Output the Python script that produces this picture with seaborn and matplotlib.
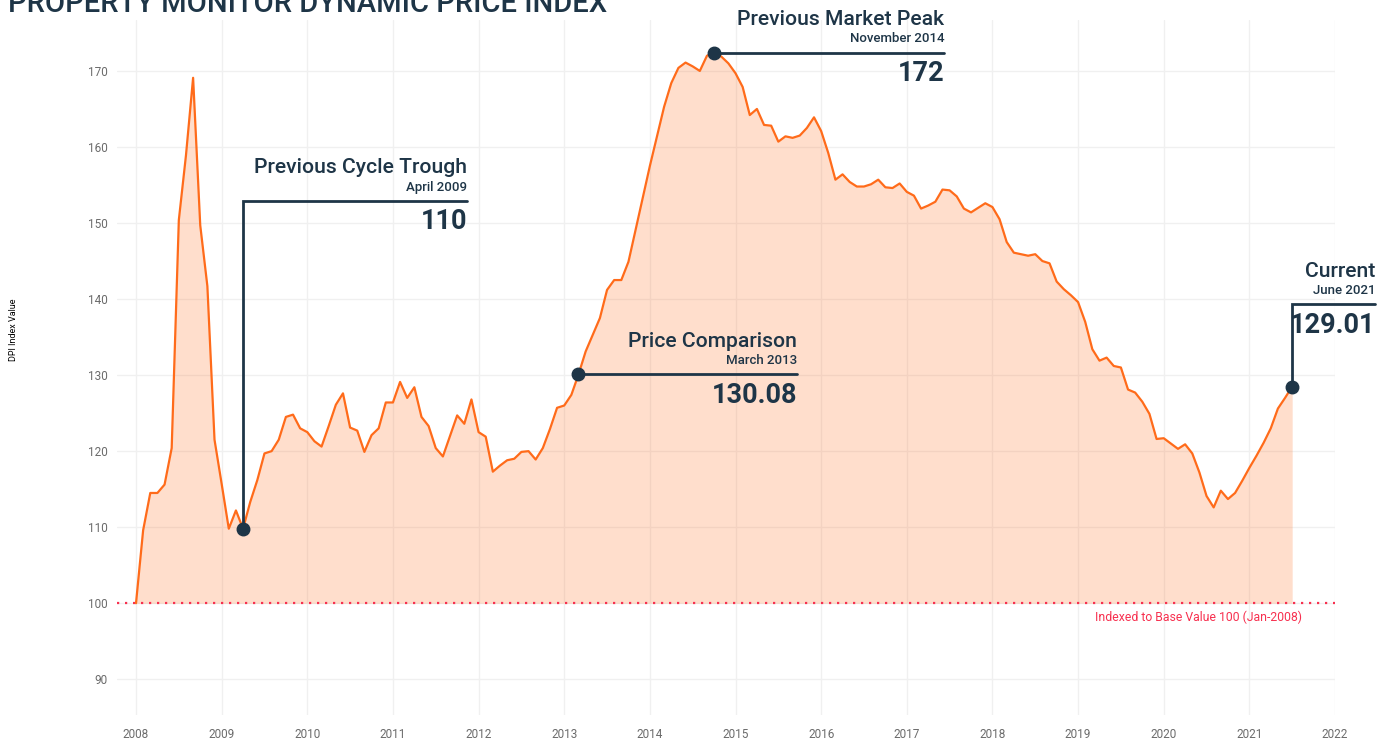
# Property Monitor DPI chart - monthly index values, Jan-2008 = 100

# --- imports --- #
import numpy as np
import pandas as pd
import matplotlib.pyplot as plt
import seaborn as sns


# --- data (monthly index values) --- #
dpi_2008 = [100.0, 109.6, 114.5, 114.5, 115.6, 120.4, 150.4, 158.9, 169.1, 149.7, 141.7, 121.5]
dpi_2009 = [115.7, 109.8, 112.2, 109.8, 113.3, 116.2, 119.7, 120.0, 121.5, 124.5, 124.8, 123.0]
dpi_2010 = [122.5, 121.3, 120.6, 123.3, 126.1, 127.6, 123.1, 122.7, 119.9, 122.1, 123.0, 126.4]
dpi_2011 = [126.4, 129.1, 127.0, 128.4, 124.5, 123.3, 120.4, 119.3, 122.0, 124.7, 123.6, 126.8]
dpi_2012 = [122.5, 121.9, 117.3, 118.1, 118.8, 119.0, 119.9, 120.0, 118.9, 120.4, 122.9, 125.7]
dpi_2013 = [126.0, 127.4, 130.08, 133.1, 135.3, 137.5, 141.2, 142.5, 142.5, 144.9, 149.1, 153.3]
dpi_2014 = [157.5, 161.4, 165.3, 168.4, 170.4, 171.1, 170.6, 170.0, 172.0, 172.4, 171.9, 171.0]
dpi_2015 = [169.7, 167.9, 164.2, 165.0, 162.9, 162.8, 160.7, 161.4, 161.2, 161.5, 162.5, 163.9]
dpi_2016 = [162.1, 159.2, 155.7, 156.4, 155.4, 154.8, 154.8, 155.1, 155.7, 154.7, 154.6, 155.2]
dpi_2017 = [154.1, 153.6, 151.9, 152.3, 152.8, 154.4, 154.3, 153.5, 151.9, 151.4, 152.0, 152.6]
dpi_2018 = [152.1, 150.5, 147.5, 146.1, 145.9, 145.7, 145.9, 145.0, 144.7, 142.3, 141.3, 140.5]
dpi_2019 = [139.6, 137.0, 133.4, 131.9, 132.3, 131.2, 131.0, 128.1, 127.7, 126.5, 124.9, 121.6]
dpi_2020 = [121.7, 121.0, 120.3, 120.9, 119.7, 117.2, 114.1, 112.6, 114.8, 113.7, 114.5, 116.1]
dpi_2021 = [117.8, 119.4, 121.1, 123.0, 125.6, 127.0, 128.5]

# callout labels
callout_titles = ["Previous Cycle Trough", "Price Comparison", "Previous Market Peak", "Current"]
callout_dates = ["April 2009", "March 2013", "November 2014", "June 2021"]
callout_values = ["110", "130.08", "172", "129.01"]

year_ticks = list(range(2008, 2023))
index_ticks = [90, 100, 110, 120, 130, 140, 150, 160, 170]
base_note = "Indexed to Base Value 100 (Jan-2008)"


# --- build frame --- #
dpi = (dpi_2008 + dpi_2009 + dpi_2010 + dpi_2011 + dpi_2012 + dpi_2013 + dpi_2014
       + dpi_2015 + dpi_2016 + dpi_2017 + dpi_2018 + dpi_2019 + dpi_2020 + dpi_2021)
df = pd.DataFrame({"year": 2008 + np.arange(len(dpi)) / 12, "dpi": dpi})


# --- styling --- #
sns.set_theme(style="whitegrid")
plt.rcParams['font.family'] = ['Roboto', 'DejaVu Sans']

NAVY = "#1e3547"
ORANGE = "#ff6b1a"
RED = "#f7304f"
GREY = "#6b6b6b"

fig = plt.figure(figsize=(13.89, 7.40), dpi=100)
ax = fig.add_axes([117 / 1389, 25 / 740, (1335 - 117) / 1389, (715 - 20) / 740])

# - area + line - #
ax.fill_between(df["year"], 100, df["dpi"], color=ORANGE, alpha=0.22, linewidth=0, zorder=1)
sns.lineplot(data=df, x="year", y="dpi", color=ORANGE, linewidth=1.6, ax=ax, zorder=3)

# - base line at 100 - #
ax.axhline(100, color=RED, linewidth=1.6, linestyle=(0, (1, 2.6)), zorder=2)
ax.text(2021.61, 99.0, base_note, color=RED, fontsize=8.8, ha='right', va='top')

# - axes - #
ax.set_xlim(2008 - 19 / 85.6, 2022)
ax.set_ylim(85.3, 176.7)
ax.set_xticks(year_ticks)
ax.set_xticklabels([str(y) for y in year_ticks])
ax.set_yticks(index_ticks)
ax.grid(True, color="#f0f0f0", linewidth=1)
for s in ax.spines.values():
    s.set_visible(False)
ax.tick_params(axis='both', length=0, labelsize=8.5, labelcolor=GREY)
ax.tick_params(axis='x', pad=9)
ax.tick_params(axis='y', pad=7)
ax.set_xlabel("")
ax.set_ylabel("")

fig.text(14 / 1389, 1 - 330 / 740, "DPI Index Value", rotation=90, fontsize=6.5,
         color="black", ha='center', va='center')

# - title (cut at the top like the original) - #
fig.text(8 / 1389, 1 - 12 / 740, "PROPERTY MONITOR DYNAMIC PRICE INDEX", fontsize=21,
         fontweight='medium', color=NAVY, ha='left', va='baseline')


# --- callouts --- #
def callout(idx, line_y, right, title, date, value):
    px, py = df["year"].iloc[idx], df["dpi"].iloc[idx]
    # elbow line: up from the point (if needed) then across to the right
    ax.plot([px, px, right], [py, line_y, line_y], color=NAVY, linewidth=2,
            solid_joinstyle='miter', zorder=4, clip_on=False)
    ax.plot([px], [py], 'o', ms=9, color=NAVY, zorder=5, clip_on=False)
    ax.annotate(title, xy=(right, line_y), xytext=(0, 20), textcoords='offset points',
                ha='right', va='baseline', fontsize=15.2, fontweight='medium', color=NAVY,
                annotation_clip=False)
    ax.annotate(date, xy=(right, line_y), xytext=(0, 7.5), textcoords='offset points',
                ha='right', va='baseline', fontsize=9.5, fontweight='medium', color=NAVY,
                annotation_clip=False)
    ax.annotate(value, xy=(right, line_y), xytext=(0, -20.5), textcoords='offset points',
                ha='right', va='baseline', fontsize=19.5, fontweight='bold', color=NAVY,
                annotation_clip=False)

trough_i = 15
comp_i = 62
peak_i = int(df["dpi"].idxmax())
last_i = len(df) - 1

callout(trough_i, 152.9, 2011.87, callout_titles[0], callout_dates[0], callout_values[0])
callout(comp_i, df["dpi"].iloc[comp_i], 2015.72, callout_titles[1], callout_dates[1], callout_values[1])
callout(peak_i, df["dpi"].iloc[peak_i], 2017.44, callout_titles[2], callout_dates[2], callout_values[2])
callout(last_i, 139.3, 2022.47, callout_titles[3], callout_dates[3], callout_values[3])

plt.savefig("out.png", dpi=100)
plt.close()
